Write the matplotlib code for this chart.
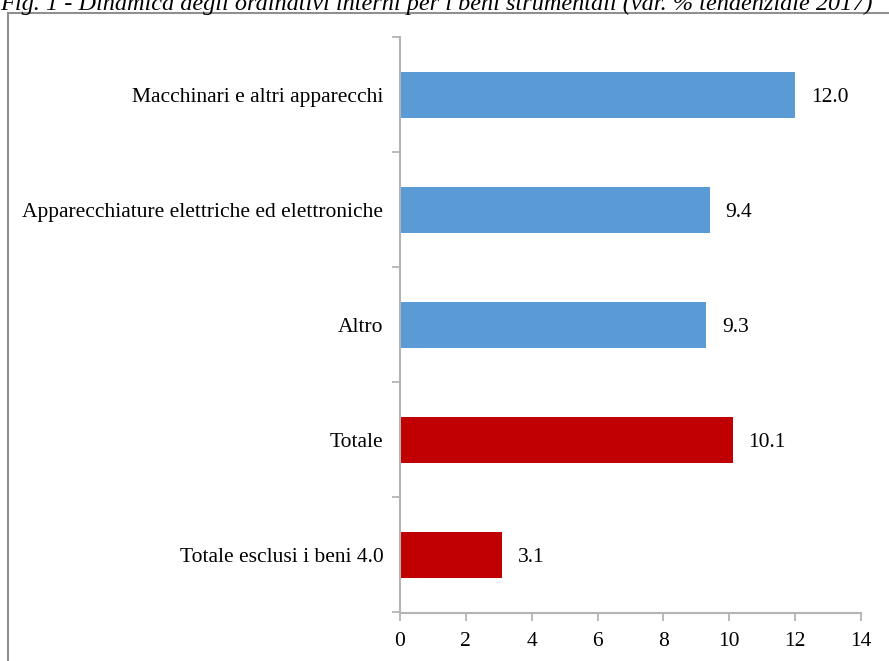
import matplotlib
matplotlib.use("Agg")
import matplotlib.pyplot as plt
from matplotlib.lines import Line2D

plt.rcParams['font.family'] = ['Liberation Serif', 'DejaVu Serif']

categories = [
    "Macchinari e altri apparecchi",
    "Apparecchiature elettriche ed elettroniche",
    "Altro",
    "Totale",
    "Totale esclusi i beni 4.0",
]
values = [12.0, 9.4, 9.3, 10.1, 3.1]
colors = ["#5B9BD5", "#5B9BD5", "#5B9BD5", "#C00000", "#C00000"]
x_ticks = [0, 2, 4, 6, 8, 10, 12, 14]
title = "Fig. 1 - Dinamica degli ordinativi interni per i beni strumentali (var. % tendenziale 2017)"

fs = 15.5
axis_grey = "#b4b4b4"

fig = plt.figure(figsize=(8.89, 6.61), dpi=100)
ax = fig.add_axes([400 / 889, 1 - 612.5 / 661, 461 / 889, 575.5 / 661])

pos = list(range(len(categories)))[::-1]
ax.barh(pos, values, height=0.4, color=colors)

for p, v in zip(pos, values):
    ax.text(v + 0.48, p, f"{v:.1f}", va="center_baseline", ha="left", fontsize=fs)

ax.set_xlim(0, 14)
ax.set_ylim(-0.5, len(categories) - 0.5)
ax.set_xticks(x_ticks)
ax.set_xticklabels([str(t) for t in x_ticks], fontsize=fs)

# category labels sit between the boundary ticks
ax.set_yticks([i - 0.5 for i in range(len(categories) + 1)])
ax.set_yticklabels([])
ax.set_yticks(pos, minor=True)
ax.set_yticklabels(categories, minor=True, fontsize=fs)
ax.tick_params(axis="y", which="minor", length=0, pad=12)
ax.tick_params(axis="y", which="major", length=6, width=1.3, color=axis_grey, direction="out")
ax.tick_params(axis="x", length=6, width=1.3, color=axis_grey, direction="out", pad=8)

for side in ["top", "right"]:
    ax.spines[side].set_visible(False)
for side in ["left", "bottom"]:
    ax.spines[side].set_color(axis_grey)
    ax.spines[side].set_linewidth(1.5)

# frame of the figure box
fig.add_artist(Line2D([8 / 889, 8 / 889], [0, 1 - 13 / 661], color="#909090", lw=1.5))
fig.add_artist(Line2D([8 / 889, 1], [1 - 13 / 661, 1 - 13 / 661], color="#909090", lw=1.5))

fig.text(0.0, 1 - 10 / 661, title, fontsize=17.5, style="italic", ha="left", va="baseline")

fig.savefig("out.png", dpi=100)
